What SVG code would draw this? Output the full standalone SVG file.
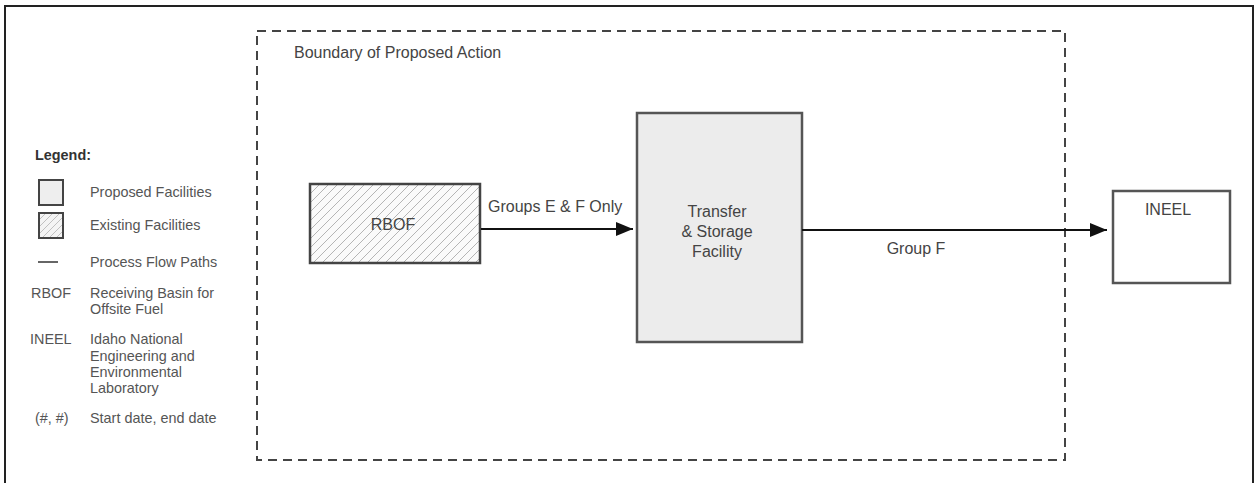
<svg xmlns="http://www.w3.org/2000/svg" width="1255" height="483" viewBox="0 0 1255 483">
  <style>
    .frame { fill: none; stroke: #222; stroke-width: 2; }
    .boundary { fill: none; stroke: #444; stroke-width: 2; stroke-dasharray: 9 6; }
    .proposed { fill: #ececec; stroke: #555; stroke-width: 2.5; }
    .existing { fill: url(#hatch); stroke: #444; stroke-width: 2.5; }
    .plain { fill: #fff; stroke: #555; stroke-width: 2.5; }
    .flow { fill: none; stroke: #111; stroke-width: 2; }
    .lbl { font-family: "Liberation Sans", Arial, sans-serif; font-size: 16px; fill: #444; }
    .mid { text-anchor: middle; }
    .leg { font-family: "Liberation Sans", Arial, sans-serif; font-size: 14.4px; fill: #555; }
    .legtitle { font-family: "Liberation Sans", Arial, sans-serif; font-size: 14.4px; font-weight: bold; fill: #333; }
  </style>
  <defs>
    <pattern id="hatch" patternUnits="userSpaceOnUse" width="9" height="9">
      <rect width="9" height="9" fill="#fafafa"/>
      <path d="M0,9 L9,0 M-2,2 L2,-2 M7,11 L11,7" stroke="#b5b5b5" stroke-width="1"/>
    </pattern>
    <pattern id="hatchSmall" patternUnits="userSpaceOnUse" width="7" height="7">
      <rect width="7" height="7" fill="#f4f4f4"/>
      <path d="M0,7 L7,0 M-2,2 L2,-2 M5,9 L9,5" stroke="#c0c0c0" stroke-width="1"/>
    </pattern>
    <marker id="arrow" markerUnits="userSpaceOnUse" markerWidth="18" markerHeight="15" refX="17" refY="7" orient="auto">
      <path d="M0,0 L17,7 L0,14 Z" fill="#111"/>
    </marker>
  </defs>

  <rect fill="#fff" x="0" y="0" width="1255" height="483"/>
  <!-- page frame (bottom edge runs off the sheet) -->
  <rect class="frame" x="5" y="6" width="1248" height="500"/>

  <!-- legend -->
  <g id="legend">
    <text class="legtitle" x="35" y="160">Legend:</text>
    <rect x="39" y="180" width="24" height="25" fill="#eeeeee" stroke="#444" stroke-width="2"/>
    <text class="leg" x="90" y="197">Proposed Facilities</text>
    <rect x="39" y="213" width="24" height="25" fill="url(#hatchSmall)" stroke="#444" stroke-width="2"/>
    <text class="leg" x="90" y="230">Existing Facilities</text>
    <line x1="38" y1="262" x2="58" y2="262" stroke="#333" stroke-width="1.5"/>
    <text class="leg" x="90" y="267">Process Flow Paths</text>
    <text class="leg" x="31" y="298">RBOF</text>
    <text class="leg" x="90" y="298">Receiving Basin for</text>
    <text class="leg" x="90" y="314">Offsite Fuel</text>
    <text class="leg" x="30" y="344">INEEL</text>
    <text class="leg" x="90" y="344">Idaho National</text>
    <text class="leg" x="90" y="361">Engineering and</text>
    <text class="leg" x="90" y="377">Environmental</text>
    <text class="leg" x="90" y="393">Laboratory</text>
    <text class="leg" x="35" y="423">(#, #)</text>
    <text class="leg" x="90" y="423">Start date, end date</text>
  </g>

  <!-- boundary of the proposed action -->
  <g id="boundary">
    <rect class="boundary" x="257" y="31" width="808" height="429"/>
    <text class="lbl" x="294" y="58">Boundary of Proposed Action</text>
  </g>

  <!-- facilities -->
  <g id="rbof">
    <rect class="existing" x="310" y="184" width="170" height="79"/>
    <text class="lbl mid" x="393" y="230">RBOF</text>
  </g>
  <g id="tsf">
    <rect class="proposed" x="637" y="113" width="165" height="229"/>
    <text class="lbl mid" x="717" y="217">Transfer</text>
    <text class="lbl mid" x="717" y="237">&amp; Storage</text>
    <text class="lbl mid" x="717" y="257">Facility</text>
  </g>
  <g id="ineel">
    <rect class="plain" x="1113" y="191" width="117" height="92"/>
    <text class="lbl mid" x="1168" y="215">INEEL</text>
  </g>

  <!-- process flow paths -->
  <g id="connectors">
    <line class="flow" x1="481" y1="229" x2="633" y2="229" marker-end="url(#arrow)"/>
    <text class="lbl" x="488" y="212">Groups E &amp; F Only</text>
    <line class="flow" x1="802" y1="230" x2="1107" y2="230" marker-end="url(#arrow)"/>
    <text class="lbl mid" x="916" y="254">Group F</text>
  </g>
</svg>
